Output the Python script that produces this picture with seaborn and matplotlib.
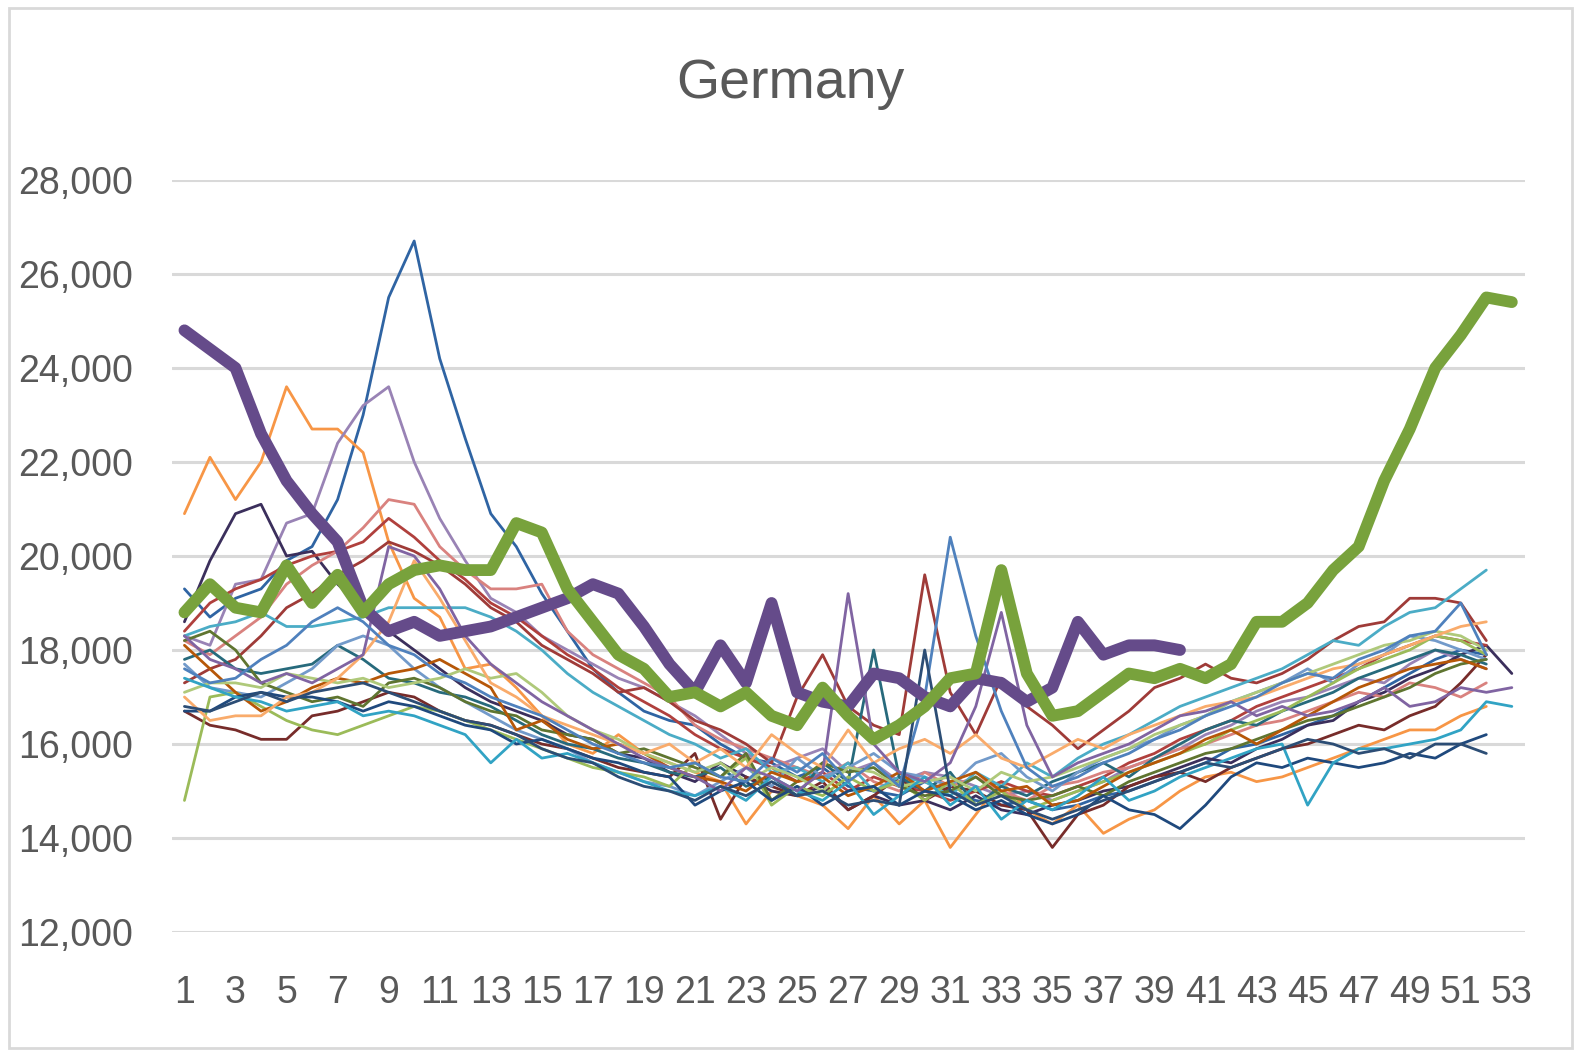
import numpy as np
import pandas as pd
import matplotlib
matplotlib.use('Agg')
import matplotlib.pyplot as plt
import seaborn as sns
from matplotlib.patches import Rectangle
from matplotlib.ticker import FuncFormatter

sns.set_theme(style='white')
plt.rcParams['font.family'] = ['Liberation Sans', 'DejaVu Sans']

# weekly values, one list per year (thin lines), then the two highlighted years
thin_series = {
    's01': [19300, 18700, 19100, 19300, 19900, 20200, 21200, 23000, 25500, 26700, 24200, 22500, 20900, 20200, 19200, 18400, 17600, 17100, 16700, 16500, 16400, 16000, 15700, 15600, 15300, 15500, 15100, 15000, 14900, 15200, 15000, 14800, 14700, 14800, 14600, 14700, 14900, 15000, 15200, 15400, 15600, 15900, 16000, 16200, 16400, 16600, 16900, 17200, 17500, 17800, 18000, 17900],
    's02': [20900, 22100, 21200, 22000, 23600, 22700, 22700, 22200, 20300, 19100, 18700, 17600, 17700, 17200, 16600, 16000, 15800, 16200, 15800, 15600, 15400, 15200, 14300, 15000, 14900, 14700, 14200, 14900, 14300, 14800, 13800, 14500, 15200, 14600, 14300, 14700, 14100, 14400, 14600, 15000, 15300, 15400, 15200, 15300, 15500, 15700, 15900, 16100, 16300, 16300, 16600, 16800],
    's03': [18300, 18100, 19400, 19500, 20700, 20900, 22400, 23200, 23600, 22000, 20800, 19900, 19100, 18800, 18300, 18000, 17700, 17400, 17200, 16900, 16600, 16200, 15800, 15500, 15700, 15900, 15400, 15600, 15200, 15400, 15300, 15100, 14900, 15000, 14800, 15000, 15200, 15500, 15700, 15900, 16200, 16400, 16700, 16900, 17000, 17200, 17400, 17300, 17700, 18000, 17800, 17600],
    's04': [18600, 19900, 20900, 21100, 20000, 20100, 19400, 18900, 18400, 18000, 17600, 17200, 16900, 16700, 16500, 16200, 16100, 15800, 15700, 15400, 15200, 15600, 15300, 15000, 14900, 15100, 14600, 14900, 14700, 14800, 14600, 14900, 14600, 14500, 14700, 14800, 15000, 15100, 15300, 15500, 15700, 15600, 15900, 16100, 16400, 16500, 16900, 17100, 17400, 17600, 17900, 18100, 17500],
    's05': [18400, 19000, 19300, 19500, 19800, 20000, 20100, 20300, 20800, 20400, 19900, 19500, 19000, 18700, 18300, 17900, 17600, 17200, 16900, 16600, 16200, 15900, 15700, 15500, 15200, 15400, 15000, 15300, 15100, 15000, 14800, 15000, 15200, 15000, 14900, 15100, 15300, 15600, 15800, 16100, 16300, 16500, 16800, 17000, 17200, 17400, 17600, 17900, 18100, 18300, 18200, 18100],
    's06': [18200, 17900, 18300, 18700, 19400, 19800, 20100, 20600, 21200, 21100, 20200, 19700, 19300, 19300, 19400, 18400, 17900, 17600, 17300, 17000, 16400, 16100, 15900, 15700, 15500, 15300, 15600, 15200, 15000, 15400, 15100, 15300, 15000, 14800, 15100, 15200, 15400, 15500, 15700, 15900, 16000, 16200, 16400, 16500, 16700, 16900, 17100, 17000, 17300, 17200, 17000, 17300],
    's07': [16700, 16400, 16300, 16100, 16100, 16600, 16700, 16900, 17100, 17000, 16700, 16500, 16400, 16200, 16000, 15900, 15700, 15500, 15400, 15300, 15800, 14400, 15300, 15100, 14900, 15200, 14600, 14900, 15300, 14800, 15100, 15000, 14700, 14600, 13800, 14500, 14700, 15100, 15300, 15400, 15200, 15500, 15700, 15900, 16000, 16200, 16400, 16300, 16600, 16800, 17300, 17900],
    's08': [17300, 17600, 17800, 18300, 18900, 19200, 19600, 19900, 20300, 20100, 19800, 19400, 18900, 18600, 18100, 17800, 17500, 17100, 17200, 16900, 16500, 16300, 16000, 15600, 17000, 17900, 16800, 16400, 16200, 19600, 17100, 16200, 17400, 16800, 16400, 15900, 16300, 16700, 17200, 17400, 17700, 17400, 17300, 17500, 17800, 18200, 18500, 18600, 19100, 19100, 19000, 18200],
    's09': [18300, 18500, 18600, 18800, 18500, 18500, 18600, 18700, 18900, 18900, 18900, 18900, 18700, 18400, 18000, 17500, 17100, 16800, 16500, 16200, 16000, 15700, 15900, 15400, 15500, 15200, 15600, 15000, 15300, 15200, 14900, 15400, 15100, 15600, 15300, 15700, 16000, 16200, 16500, 16800, 17000, 17200, 17400, 17600, 17900, 18200, 18100, 18500, 18800, 18900, 19300, 19700],
    's10': [17800, 18000, 17600, 17500, 17600, 17700, 18100, 17800, 17400, 17300, 17100, 17000, 16800, 16500, 16200, 16000, 15900, 15700, 15600, 15400, 15300, 15500, 15100, 15300, 14900, 15600, 15200, 18000, 15300, 15000, 15400, 14700, 15100, 14900, 15200, 15400, 15600, 15300, 15700, 16000, 16300, 16500, 16400, 16700, 16900, 17100, 17400, 17600, 17800, 18000, 17900, 17700],
    's11': [17700, 17200, 17100, 17000, 17300, 17600, 18100, 18300, 18100, 17600, 17200, 16900, 16600, 16300, 16100, 15900, 15600, 15400, 15200, 15100, 14900, 15200, 15500, 15100, 15700, 15300, 15500, 15800, 15400, 15300, 15100, 15600, 15800, 15300, 15000, 15400, 15700, 15900, 16100, 16400, 16600, 16900, 17100, 17300, 17600, 17300, 17700, 17900, 18300, 18200, 18000, 17800],
    's12': [14800, 17000, 17100, 16800, 16500, 16300, 16200, 16400, 16600, 16800, 16700, 16500, 16300, 16100, 15900, 15700, 15500, 15400, 15300, 15100, 15600, 15300, 15700, 14700, 15100, 14900, 15300, 15000, 15200, 14800, 15200, 14700, 15000, 14600, 14800, 15000, 15200, 15400, 15600, 15800, 16000, 16300, 16500, 16700, 17000, 17300, 17600, 17800, 18000, 18300, 18200, 17900],
    's13': [18200, 18400, 18000, 17300, 17100, 16900, 17000, 16800, 17300, 17400, 17200, 16900, 16700, 16600, 16300, 16200, 16100, 15800, 15900, 15700, 15500, 15300, 15800, 14800, 15200, 15600, 15400, 15500, 15100, 14900, 15000, 15300, 14900, 14800, 14900, 15100, 14900, 15200, 15400, 15600, 15800, 15900, 16100, 16300, 16500, 16600, 16800, 17000, 17200, 17500, 17700, 17800],
    's14': [18100, 17600, 17100, 16700, 16900, 17200, 17400, 17300, 17500, 17600, 17800, 17500, 17200, 16300, 16500, 16100, 15900, 16000, 15800, 15500, 15300, 15200, 15000, 15400, 15200, 15300, 14900, 15100, 15400, 15000, 15200, 15400, 15000, 15100, 14700, 14800, 15100, 15400, 15600, 15800, 16100, 16300, 16000, 16300, 16600, 16900, 17200, 17400, 17600, 17700, 17800, 17600],
    's15': [17100, 17300, 17300, 17200, 17500, 17400, 17300, 17400, 17200, 17300, 17400, 17600, 17400, 17500, 17100, 16600, 16300, 16100, 15800, 15600, 15400, 15600, 15200, 15500, 15300, 15000, 15500, 15400, 15100, 15200, 15300, 15000, 15400, 15200, 15300, 15500, 15700, 15900, 16200, 16400, 16600, 16900, 17100, 17300, 17500, 17700, 17900, 18100, 18200, 18400, 18300, 18000],
    's16': [16700, 16700, 17000, 17100, 17000, 17000, 16900, 16700, 16900, 16800, 16600, 16400, 16300, 16000, 16100, 15900, 15700, 15600, 15400, 15300, 14700, 15000, 15200, 14800, 15100, 14700, 15000, 15100, 14700, 15000, 14900, 14600, 14800, 14500, 14300, 14500, 14900, 14600, 14500, 14200, 14700, 15300, 15600, 15500, 15700, 15600, 15500, 15600, 15800, 15700, 16000, 16200],
    's17': [17400, 17200, 17000, 16900, 16700, 16800, 16900, 16600, 16700, 16600, 16400, 16200, 15600, 16100, 15700, 15800, 15600, 15400, 15200, 15000, 14900, 15100, 14800, 15300, 15000, 14800, 15200, 14500, 14900, 15300, 14700, 15100, 14400, 14800, 14600, 14900, 15300, 14800, 15000, 15300, 15500, 15700, 15900, 16000, 14700, 15600, 15900, 15900, 16000, 16100, 16300, 16900, 16800],
    's18': [17000, 16500, 16600, 16600, 17000, 17100, 17400, 17900, 18600, 19900, 19100, 18200, 17300, 17000, 16600, 16400, 16200, 16000, 15800, 16000, 15600, 15900, 15500, 16200, 15800, 15500, 16300, 15600, 15900, 16100, 15800, 16200, 15700, 15500, 15800, 16100, 15900, 16200, 16400, 16600, 16800, 16900, 17000, 17200, 17400, 17600, 17700, 17900, 18100, 18300, 18500, 18600],
    's19': [18300, 17800, 17600, 17300, 17500, 17300, 17600, 17900, 20200, 20000, 19300, 18300, 17700, 17300, 16900, 16600, 16300, 16000, 15700, 15500, 15300, 15000, 15500, 15300, 15000, 15400, 19200, 16000, 15400, 15200, 15600, 16800, 18800, 16400, 15300, 15600, 15800, 16000, 16300, 16600, 16700, 16900, 16600, 16800, 16600, 16700, 16900, 17200, 16800, 16900, 17200, 17100, 17200],
    's20': [17600, 17300, 17400, 17800, 18100, 18600, 18900, 18600, 18100, 17900, 17500, 17300, 17000, 16800, 16600, 16300, 16000, 15800, 15600, 15500, 15600, 15300, 15200, 15700, 15400, 15800, 15200, 15600, 15100, 17000, 20400, 18300, 16700, 15500, 15100, 15300, 15600, 15800, 16100, 16300, 16600, 16800, 17000, 17300, 17500, 17400, 17800, 18000, 18300, 18400, 19000, 17900],
    's21': [16800, 16700, 16900, 17100, 16900, 17100, 17200, 17300, 17100, 16900, 16700, 16500, 16400, 16200, 15900, 15700, 15600, 15300, 15100, 15000, 14800, 15100, 14900, 15200, 14900, 15000, 14700, 14800, 14700, 18000, 15000, 14700, 14900, 14600, 14400, 14600, 14800, 15000, 15200, 15400, 15600, 15500, 15700, 15900, 16100, 16000, 15800, 15900, 15700, 16000, 16000, 15800],
}

thin_colors = {
    's01': '#2F64A3', 's02': '#F79646', 's03': '#9983B5', 's04': '#3B2F5C',
    's05': '#B0403D', 's06': '#D9827F', 's07': '#772C2A', 's08': '#9F3B38',
    's09': '#4BACC6', 's10': '#276A7C', 's11': '#729ACA', 's12': '#9BBB59',
    's13': '#5F7530', 's14': '#B65708', 's15': '#AFC97A', 's16': '#1F497D',
    's17': '#31A3C4', 's18': '#F9AB6B', 's19': '#8064A2', 's20': '#4F81BD',
    's21': '#2C4D75',
}

purple_year = [24800, 24400, 24000, 22600, 21600, 20900, 20300, 18900, 18400, 18600,
               18300, 18400, 18500, 18700, 18900, 19100, 19400, 19200, 18500, 17700,
               17100, 18100, 17300, 19000, 17100, 16900, 16800, 17500, 17400, 17000,
               16800, 17400, 17300, 16900, 17200, 18600, 17900, 18100, 18100, 18000]

green_year = [18800, 19400, 18900, 18800, 19800, 19000, 19600, 18800, 19400, 19700,
              19800, 19700, 19700, 20700, 20500, 19300, 18600, 17900, 17600, 17000,
              17100, 16800, 17100, 16600, 16400, 17200, 16600, 16100, 16400, 16800,
              17400, 17500, 19700, 17500, 16600, 16700, 17100, 17500, 17400, 17600,
              17400, 17700, 18600, 18600, 19000, 19700, 20200, 21600, 22700, 24000,
              24700, 25500, 25400]

y_ticks = [12000, 14000, 16000, 18000, 20000, 22000, 24000, 26000, 28000]
x_ticks = list(range(1, 54, 2))

fig = plt.figure(figsize=(15.75, 10.52), dpi=100)
ax = fig.add_axes([0.109, 0.114, 0.859, 0.715])

for name, vals in thin_series.items():
    weeks = np.arange(1, len(vals) + 1)
    sns.lineplot(x=weeks, y=vals, color=thin_colors[name], linewidth=2.0,
                 ax=ax, solid_joinstyle='round', solid_capstyle='round')

sns.lineplot(x=np.arange(1, len(purple_year) + 1), y=purple_year, color='#654B8A',
             linewidth=8.5, ax=ax, solid_joinstyle='round', solid_capstyle='round')
sns.lineplot(x=np.arange(1, len(green_year) + 1), y=green_year, color='#78A23C',
             linewidth=8.5, ax=ax, solid_joinstyle='round', solid_capstyle='round')

ax.set_xlim(0.5, 53.5)
ax.set_ylim(12000, 28000)
ax.set_yticks(y_ticks)
ax.set_xticks(x_ticks)
ax.yaxis.set_major_formatter(FuncFormatter(lambda v, p: f'{int(v):,}'))
ax.grid(axis='y', color='#D9D9D9', linewidth=2.2)
ax.grid(axis='x', visible=False)
ax.set_axisbelow(True)
for sp in ax.spines.values():
    sp.set_visible(False)
ax.tick_params(axis='y', length=0, pad=28, labelsize=27, labelcolor='#595959')
ax.tick_params(axis='x', length=0, pad=31, labelsize=27, labelcolor='#595959')
ax.set_xlabel('')
ax.set_ylabel('')

fig.text(0.502, 0.920, 'Germany', ha='center', va='center', fontsize=40, color='#595959')

fig.patches.append(Rectangle((0.006, 0.004), 0.992, 0.988, transform=fig.transFigure,
                             fill=False, edgecolor='#D9D9D9', linewidth=2))

fig.savefig('out.png', dpi=100, facecolor='white')
